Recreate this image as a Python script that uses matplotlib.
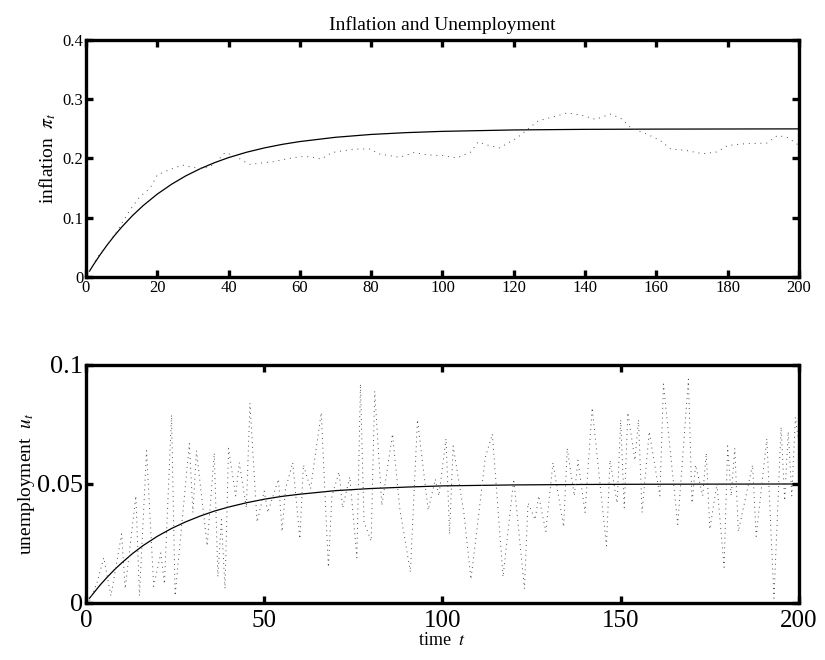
import matplotlib
matplotlib.use("Agg")
import matplotlib.pyplot as plt

plt.rcParams["font.family"] = ["Liberation Serif", "DejaVu Serif"]
plt.rcParams["mathtext.fontset"] = "stix"

# smooth (expected) paths
SMOOTH_T = [1, 2, 4, 6, 8, 10, 13, 16, 20, 24, 28, 32, 36, 40, 45, 50, 55,
            60, 70, 80, 90, 100, 120, 140, 160, 200]
INFL_SMOOTH = [0.010, 0.0197, 0.0378, 0.0545, 0.0699, 0.0841, 0.1033, 0.1203,
               0.1399, 0.1565, 0.1707, 0.1826, 0.1928, 0.2015, 0.2105, 0.2178,
               0.2238, 0.2286, 0.2358, 0.2406, 0.2437, 0.2458, 0.2482, 0.2492,
               0.2496, 0.2500]
UNEMP_SMOOTH = [0.0020, 0.0039, 0.0076, 0.0109, 0.0140, 0.0168, 0.0207, 0.0241,
                0.0280, 0.0313, 0.0341, 0.0365, 0.0386, 0.0403, 0.0421, 0.0436,
                0.0448, 0.0457, 0.0472, 0.0481, 0.0487, 0.0492, 0.0496, 0.0498,
                0.0499, 0.0500]

# simulated inflation path
INFL_T = [1, 3, 6, 9, 12, 15, 18, 20, 23, 27, 30, 33, 36, 39, 42, 44, 46, 50,
          53, 56, 60, 63, 66, 69, 72, 76, 80, 82, 85, 88, 92, 96, 100, 104,
          108, 110, 113, 116, 119, 121, 124, 127, 131, 135, 139, 143, 147, 150,
          153, 157, 161, 164, 168, 173, 177, 180, 185, 191, 194, 197, 200]
INFL_SIM = [0.010, 0.032, 0.055, 0.080, 0.110, 0.135, 0.150, 0.172, 0.180,
            0.189, 0.185, 0.183, 0.190, 0.210, 0.204, 0.196, 0.190, 0.193,
            0.195, 0.199, 0.203, 0.203, 0.199, 0.210, 0.213, 0.216, 0.216,
            0.208, 0.205, 0.202, 0.210, 0.206, 0.205, 0.201, 0.211, 0.228,
            0.222, 0.218, 0.228, 0.235, 0.250, 0.264, 0.270, 0.277, 0.273,
            0.266, 0.275, 0.268, 0.251, 0.242, 0.231, 0.216, 0.214, 0.208,
            0.211, 0.222, 0.225, 0.226, 0.239, 0.235, 0.222]

# simulated unemployment path
UNEMP_T = [1, 3, 5, 7, 10, 11, 14, 15, 17, 19, 21, 22, 24, 25, 29, 30, 31, 34,
           36, 37, 38, 39, 40, 42, 43, 45, 46, 48, 50, 51, 54, 55, 56, 58, 60,
           61, 63, 66, 68, 69, 71, 72, 74, 76, 77, 78, 80, 81, 83, 86, 88, 91,
           93, 96, 98, 99, 101, 102, 103, 106, 108, 110, 112, 114, 117, 120,
           123, 124, 126, 127, 129, 131, 134, 135, 137, 138, 140, 142, 146,
           147, 149, 150, 151, 152, 154, 155, 156, 158, 161, 162, 166, 169,
           170, 171, 173, 174, 175, 177, 179, 180, 181, 182, 183, 187, 188,
           191, 193, 195, 196, 197, 198, 199, 200]
UNEMP_SIM = [0.001, 0.008, 0.019, 0.003, 0.029, 0.006, 0.045, 0.003, 0.064,
             0.007, 0.021, 0.008, 0.079, 0.003, 0.067, 0.038, 0.064, 0.024,
             0.063, 0.011, 0.035, 0.006, 0.065, 0.045, 0.059, 0.040, 0.084,
             0.034, 0.047, 0.038, 0.052, 0.030, 0.048, 0.059, 0.027, 0.058,
             0.048, 0.080, 0.015, 0.045, 0.055, 0.040, 0.053, 0.019, 0.092,
             0.034, 0.026, 0.089, 0.041, 0.071, 0.040, 0.013, 0.077, 0.039,
             0.052, 0.045, 0.069, 0.029, 0.066, 0.038, 0.010, 0.035, 0.061,
             0.071, 0.011, 0.052, 0.006, 0.042, 0.035, 0.045, 0.030, 0.059,
             0.032, 0.065, 0.045, 0.060, 0.038, 0.082, 0.024, 0.060, 0.042,
             0.077, 0.040, 0.080, 0.060, 0.077, 0.038, 0.072, 0.045, 0.092,
             0.033, 0.094, 0.042, 0.058, 0.045, 0.063, 0.031, 0.050, 0.015,
             0.066, 0.045, 0.065, 0.030, 0.058, 0.028, 0.069, 0.002, 0.074,
             0.043, 0.072, 0.045, 0.078, 0.067]

TOP_XTICKS = list(range(0, 201, 20))
TOP_YTICKS = [0, 0.1, 0.2, 0.3, 0.4]
TOP_YLABELS = ["0", "0.1", "0.2", "0.3", "0.4"]
BOT_XTICKS = [0, 50, 100, 150, 200]
BOT_YTICKS = [0, 0.05, 0.1]
BOT_YLABELS = ["0", "0.05", "0.1"]


def style_axes(ax, size):
    for s in ax.spines.values():
        s.set_linewidth(2.4)
    ax.tick_params(direction="in", length=5, width=2.4, top=True, right=True,
                   labelsize=size, pad=2)


fig = plt.figure(figsize=(8.25, 6.6), dpi=100)
ax1 = fig.add_axes([0.1042, 0.5803, 0.8642, 0.3591])
ax2 = fig.add_axes([0.1042, 0.0864, 0.8642, 0.3606])

ax1.plot(SMOOTH_T, INFL_SMOOTH, color="black", lw=0.9)
ax1.plot(INFL_T, INFL_SIM, color="0.3", lw=0.7, dashes=(1, 5))
ax1.set_xlim(0, 200)
ax1.set_ylim(0, 0.4)
ax1.set_xticks(TOP_XTICKS)
ax1.set_yticks(TOP_YTICKS)
ax1.set_yticklabels(TOP_YLABELS)
style_axes(ax1, 12)
ax1.set_ylabel(r"inflation  $\pi_t$", fontsize=14, labelpad=3)
ax1.set_title("Inflation and Unemployment", fontsize=14, pad=7)

ax2.plot(SMOOTH_T, UNEMP_SMOOTH, color="black", lw=0.9)
ax2.plot(UNEMP_T, UNEMP_SIM, color="0.3", lw=0.7, dashes=(1, 4))
ax2.set_xlim(0, 200)
ax2.set_ylim(0, 0.1)
ax2.set_xticks(BOT_XTICKS)
ax2.set_yticks(BOT_YTICKS)
ax2.set_yticklabels(BOT_YLABELS)
style_axes(ax2, 19)
ax2.tick_params(axis="x", pad=5, labelsize=18)
ax2.set_ylabel(r"unemployment  $u_t$", fontsize=14, labelpad=0)
ax2.set_xlabel(r"time  $t$", fontsize=13, labelpad=0)

fig.savefig("out.png", dpi=100)
